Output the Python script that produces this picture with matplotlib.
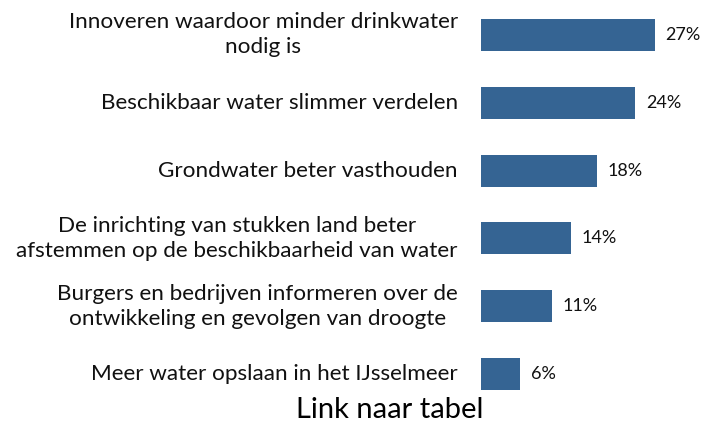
import matplotlib
matplotlib.use("Agg")
import matplotlib.pyplot as plt

labels = [
    "Innoveren waardoor minder drinkwater\nnodig is",
    "Beschikbaar water slimmer verdelen",
    "Grondwater beter vasthouden",
    "De inrichting van stukken land beter\nafstemmen op de beschikbaarheid van water",
    "Burgers en bedrijven informeren over de\nontwikkeling en gevolgen van droogte",
    "Meer water opslaan in het IJsselmeer",
]
values = [27, 24, 18, 14, 11, 6]

bar_color = "#356493"
plt.rcParams["font.family"] = ["Lato", "DejaVu Sans"]

fig = plt.figure(figsize=(7.05, 4.24), dpi=100)
ax = fig.add_axes([481 / 705, 16 / 424, 193 / 705, 407 / 424])

pos = range(len(values))
ax.barh(pos, values, height=0.47, color=bar_color)
ax.set_ylim(len(values) - 0.5, -0.5)
ax.set_xlim(0, 30)
ax.axis("off")

for i, (lab, v) in enumerate(zip(labels, values)):
    ax.text(-0.12, i, lab, transform=ax.get_yaxis_transform(), ha="right",
            va="center", multialignment="center", fontsize=16.2,
            linespacing=1.32, color="#111111")
    ax.text(v + 1.7, i, f"{v}%", ha="left", va="center", fontsize=13,
            color="#111111")

fig.text(390 / 705, 1 - 410 / 424, "Link naar tabel", ha="center",
         va="center", fontsize=21, color="black")

fig.savefig("out.png", dpi=100)
